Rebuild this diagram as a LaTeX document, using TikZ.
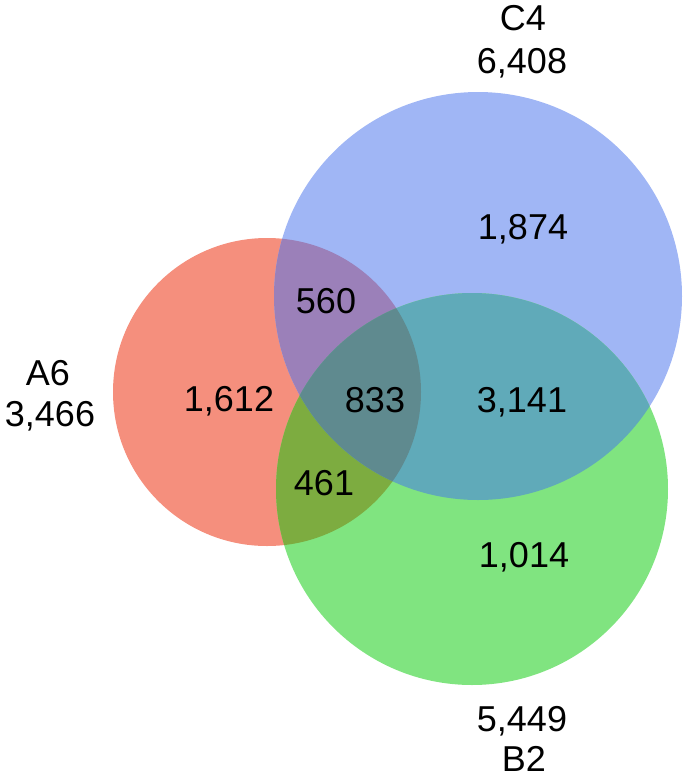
\documentclass[tikz,border=0pt]{standalone}
\usepackage{fontspec}
\setmainfont{Liberation Sans}
\definecolor{cA}{RGB}{245,143,125}
\definecolor{cC}{RGB}{160,182,245}
\definecolor{cB}{RGB}{128,228,128}
\definecolor{cAC}{RGB}{155,128,185}
\definecolor{cBC}{RGB}{96,170,185}
\definecolor{cAB}{RGB}{125,172,64}
\definecolor{cABC}{RGB}{95,138,143}
\tikzset{lbl/.style={anchor=base,inner sep=0pt,font=\fontsize{36}{43}\selectfont}}
\begin{document}
\begin{tikzpicture}[x=1pt,y=-1pt]
\useasboundingbox (0,0) rectangle (685,777);
\def\circA{(267,392) circle[radius=154]}
\def\circC{(478,296) circle[radius=204]}
\def\circB{(472,489) circle[radius=196]}
\fill[cA] \circA;
\fill[cC] \circC;
\fill[cB] \circB;
\begin{scope}\clip \circA; \fill[cAC] \circC; \end{scope}
\begin{scope}\clip \circA; \fill[cAB] \circB; \end{scope}
\begin{scope}\clip \circC; \fill[cBC] \circB; \end{scope}
\begin{scope}\clip \circA; \clip \circC; \fill[cABC] \circB; \end{scope}
\node[lbl] (c4) at (523,30) {C4};
\node[lbl] (c4n) at (522,73) {6,408};
\node[lbl] (a6) at (48,385) {A6};
\node[lbl] (a6n) at (50,426) {3,466};
\node[lbl] (b2n) at (522,731) {5,449};
\node[lbl] (b2) at (524,771) {B2};
\node[lbl] (r1874) at (523,239) {1,874};
\node[lbl] (r560) at (326,313) {560};
\node[lbl] (r1612) at (229,411) {1,612};
\node[lbl] (r833) at (375,412) {833};
\node[lbl] (r3141) at (522,412) {3,141};
\node[lbl] (r461) at (324,495) {461};
\node[lbl] (r1014) at (524,567) {1,014};
\end{tikzpicture}
\end{document}
